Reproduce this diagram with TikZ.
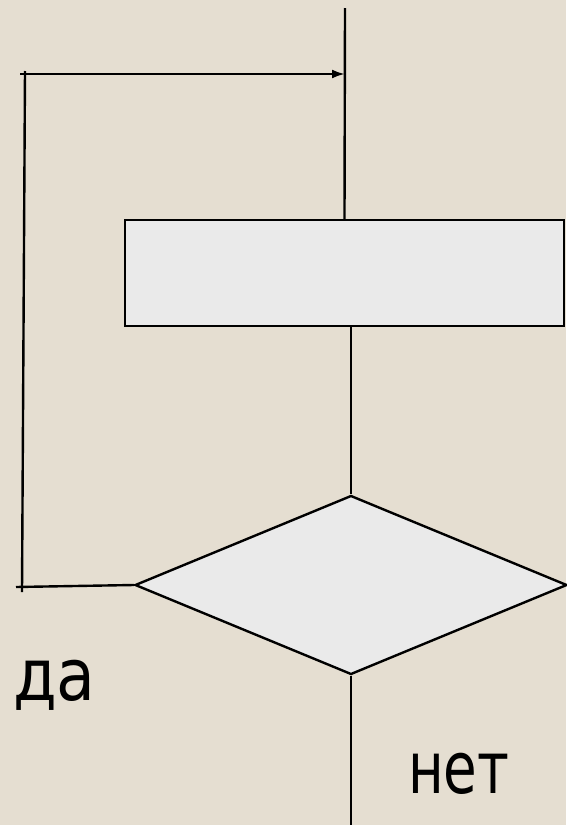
\documentclass[tikz,border=0pt]{standalone}
\usepackage{fontspec}
\usepackage{graphicx}
\setmainfont{DejaVu Sans}
\usetikzlibrary{shapes.geometric}
\usetikzlibrary{arrows.meta}
\definecolor{c1}{RGB}{0,0,0}
\definecolor{c2}{RGB}{229,222,209}
\definecolor{c3}{RGB}{234,234,234}

\begin{document}
\begin{tikzpicture}[x=1pt,y=-1pt,line width=2.4pt,
    blockbox/.style={draw=c1,fill=c3,rectangle,minimum width=439pt,minimum height=106pt,inner sep=0pt},
    condbox/.style={draw=c1,fill=c3,diamond,minimum width=432pt,minimum height=179pt,inner sep=0pt},
    answer/.style={anchor=base west,inner sep=0pt,font=\fontsize{72}{86}\selectfont}]
    % background, fixes the size of the page
    \fill[c2] (0,0) rectangle (566,825);
    \useasboundingbox (0,0) rectangle (566,825);

    % body of the loop and the condition
    \node[blockbox] (block) at (344.5,273) {};
    \node[condbox] (cond) at (351,585) {};

    % free ends of the lines
    \coordinate (top) at (345,8);
    \coordinate (bottom) at (351,825);
    \coordinate (backleft) at (16,587);
    \coordinate (downleft) at (22,592);
    \coordinate (upleft) at (25,71);
    \coordinate (arrowstart) at (20,74);
    \coordinate (arrowend) at (345,74);

    % main flow
    \draw[c1] (top) -- (block.north);
    \draw[c1] (block.south -| cond.north) -- (cond.north);
    \draw[c1] (cond.south) -- (bottom);

    % the way back for "yes"
    \draw[c1] (cond.west) -- (backleft);
    \draw[c1] (downleft) -- (upleft);
    \draw[c1,-{Latex[length=13pt,width=9pt]}] (arrowstart) -- (arrowend);

    \node[answer] (yes) at (12,700) {\scalebox{0.88}[1]{да}};
    \node[answer] (no) at (407,793) {\scalebox{0.76}[1]{нет}};
\end{tikzpicture}
\end{document}
